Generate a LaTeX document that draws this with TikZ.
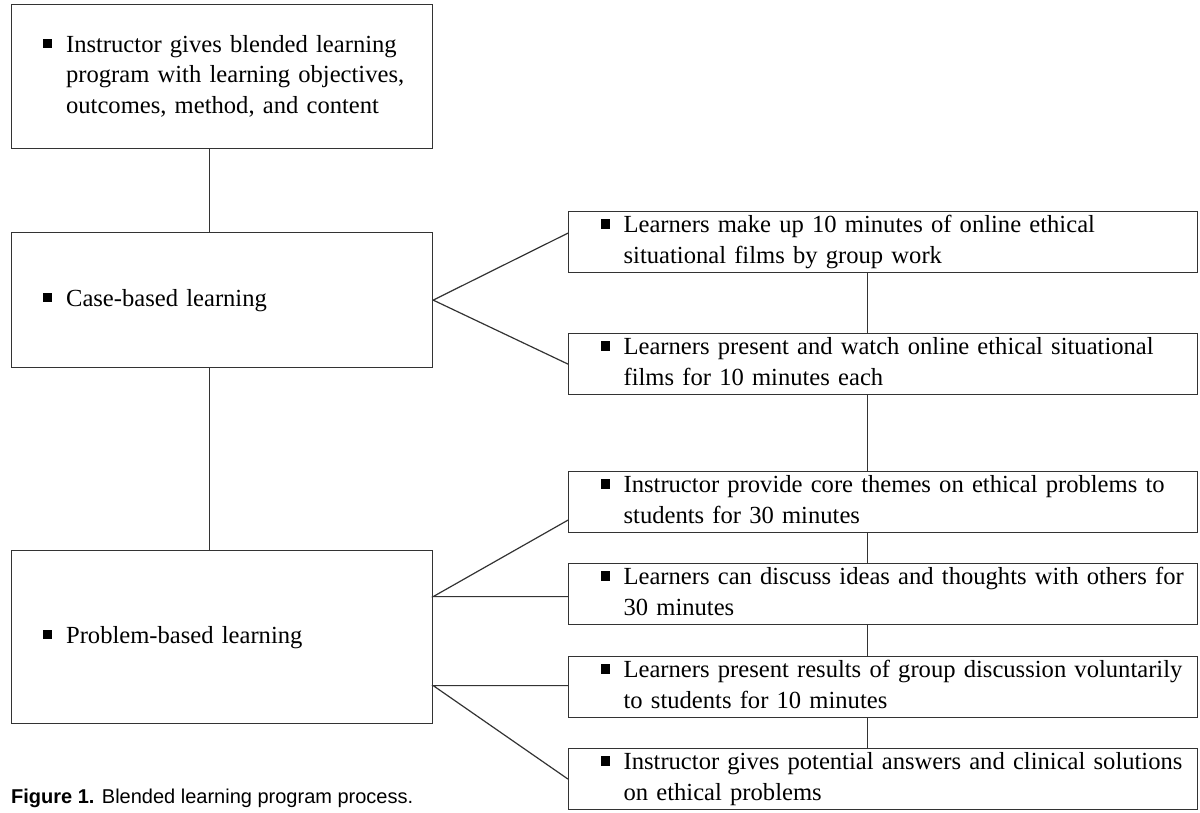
\documentclass[tikz,border=0pt]{standalone}
\usepackage{fontspec}
\setmainfont{Liberation Serif}
\newfontfamily\capfont{Liberation Sans}
\usetikzlibrary{positioning}

% square bullet followed by the (possibly multi-line) item text
\newcommand{\sqitem}[2][13.5pt]{\noindent\raisebox{4pt}{\rule{9.5pt}{9.5pt}}\hspace{#1}\begin{tabular}[t]{@{}l@{}}#2\end{tabular}}

\begin{document}
\begin{tikzpicture}[
  x=1pt, y=-1pt,
  stage/.style={draw=black!80, line width=1.2pt, anchor=north west, inner xsep=31pt, inner ysep=0pt,
    text width=359pt, align=left, font=\fontsize{24.6}{30.5}\selectfont},
  activity/.style={stage, inner xsep=32pt, text width=565pt, minimum height=61pt},
  link/.style={draw=black!80, line width=1.2pt}
]
\useasboundingbox (0,0) rectangle (1200,812);

% Stages (left column)
\node[stage, minimum height=144pt] (prog) at (11,4)
  {\sqitem[14pt]{Instructor gives blended learning\\program with learning objectives,\\outcomes, method, and content}};
\node[stage, minimum height=135pt] (cbl) at (11,232) {\sqitem[14pt]{Case-based learning}};
\node[stage, minimum height=173pt] (pbl) at (11,550) {\sqitem[14pt]{Problem-based learning}};

% Activities (right column)
\node[activity] (a1) at (568,211) {\sqitem{Learners make up 10 minutes of online ethical\\situational films by group work}};
\node[activity] (a2) at (568,333) {\sqitem{Learners present and watch online ethical situational\\films for 10 minutes each}};
\node[activity] (a3) at (568,471) {\sqitem{Instructor provide core themes on ethical problems to\\students for 30 minutes}};
\node[activity] (a4) at (568,563) {\sqitem{Learners can discuss ideas and thoughts with others for\\30 minutes}};
\node[activity] (a5) at (568,656) {\sqitem{Learners present results of group discussion voluntarily\\to students for 10 minutes}};
\node[activity, minimum height=60pt] (a6) at (568,748) {\sqitem{Instructor gives potential answers and clinical solutions\\on ethical problems}};

% Caption
\node[anchor=base west, inner sep=0pt, font=\capfont\fontsize{20}{24}\selectfont] (cap) at (11,803)
  {\textbf{Figure 1.} Blended learning program process.};

% Vertical links
\draw[link] ([xshift=-12.5pt]prog.south) -- ([xshift=-12.5pt]cbl.north);
\draw[link] ([xshift=-12.5pt]cbl.south) -- ([xshift=-12.5pt]pbl.north);
\foreach \a/\b in {a1/a2, a2/a3, a3/a4, a4/a5, a5/a6}
  \draw[link] ([xshift=-15.5pt]\a.south) -- ([xshift=-15.5pt]\b.north);

% Branches from the stages
\draw[link] ([yshift=9pt]a1.west) -- (cbl.east) -- (a2.west);
\draw[link] ([yshift=-18pt]a3.west) -- ([yshift=40.5pt]pbl.east) -- ([yshift=40.5pt]pbl.east -| a4.west);
\draw[link] ([yshift=-48.5pt]pbl.east -| a5.west) -- ([yshift=-48.5pt]pbl.east) -- (a6.west);

\end{tikzpicture}
\end{document}
